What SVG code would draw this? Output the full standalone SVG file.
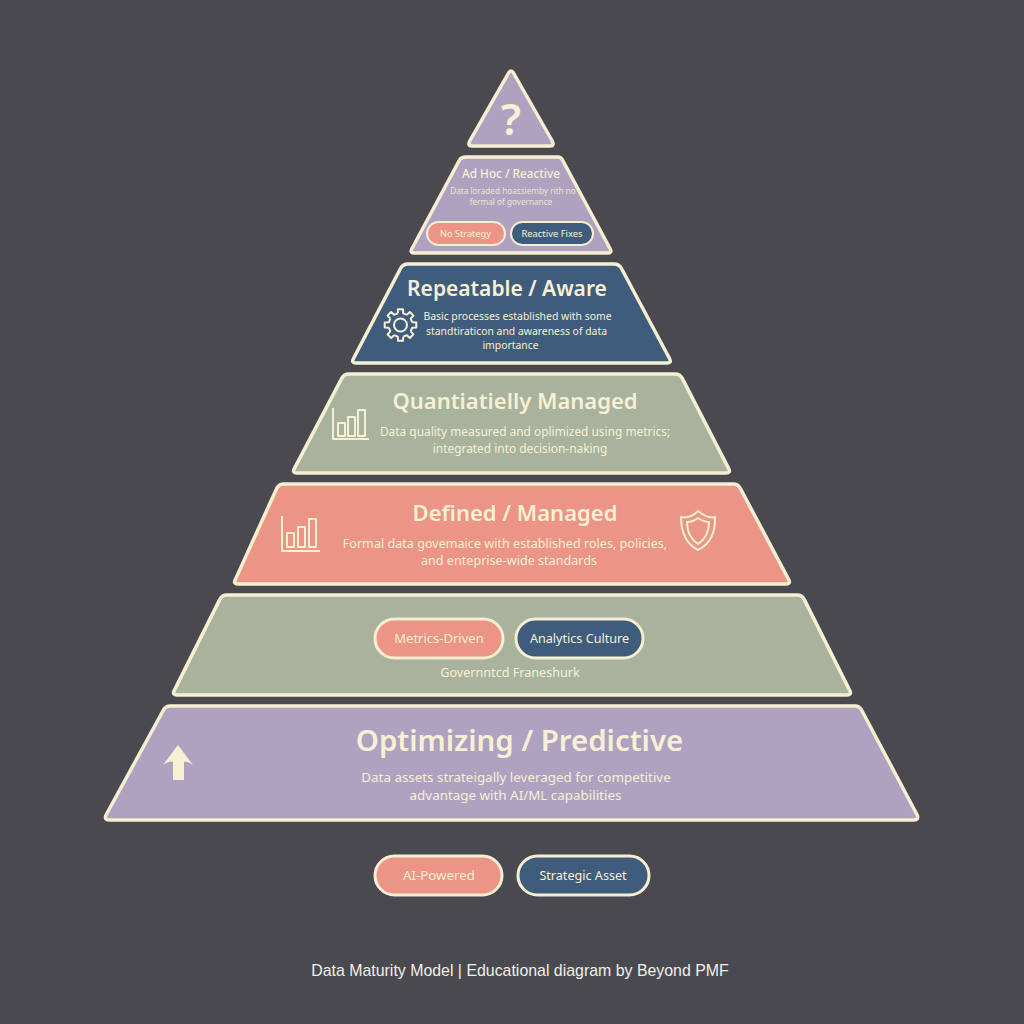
<svg xmlns="http://www.w3.org/2000/svg" width="1024" height="1024" viewBox="0 0 1024 1024">
<style>
.t{stroke:#f6eed2;stroke-width:3.5;stroke-linejoin:round}
.pu{fill:#aea2c0}.na{fill:#3f5c7c}.sa{fill:#a8b29c}.co{fill:#ec9485}
.p2{stroke:#f6eed2;stroke-width:2}.p3{stroke:#f6eed2;stroke-width:3}
text{font-family:"Noto Sans","Open Sans","Liberation Sans",sans-serif;fill:#f8f0d4;text-anchor:middle}
.h{font-weight:600}
.i{fill:none;stroke:#f8f0d4;stroke-width:2;stroke-linejoin:round}
</style>
<defs><path id="tooth" d="M-2.7 -11.7 L-2.5 -15.8 L2.5 -15.8 L2.7 -11.7 L6.36 -10.18"/></defs>
<rect width="1024" height="1024" fill="#49494f"/>
<g id="tier-top"><path class="t pu" d="M508.5 73 Q511 69 513.5 73 L552 140.5 Q555 146 550 146 H472 Q467 146 470 140.5 Z"/><text x="511" y="135" font-size="44" class="h" fill-opacity="1">?</text></g>
<g id="tier-adhoc"><path class="t pu" d="M466 157 H558 Q561 157 562.5 160 L610 248.5 Q612.5 253 608 253 H414 Q409.5 253 412 248.5 L459.5 160 Q461 157 466 157 Z"/>
<text x="511" y="178" font-size="11.8" font-weight="500">Ad Hoc / Reactive</text>
<text x="513" y="194" font-size="8.2" opacity=".85">Data loraded hoassiemby rith no</text>
<text x="511" y="205" font-size="8.2" opacity=".85">fermal of governance</text>
<rect class="co p2" x="427" y="222" width="78" height="23" rx="11.5"/><text x="465.500" y="237" font-size="9.2">No Strategy</text>
<rect class="na p2" x="511" y="222" width="82" height="23" rx="11.5"/><text x="552" y="237" font-size="9.400">Reactive Fixes</text></g>
<g id="tier-repeatable"><path class="t na" d="M408 264 H614 Q619 264 621.5 268.500 L669.500 358.500 Q672 363 667 363 H356 Q351 363 353.500 358.500 L400.500 268.500 Q403 264 408 264 Z"/>
<text x="507" y="296" font-size="21" class="h">Repeatable / Aware</text>
<text x="517.500" y="320" font-size="10.4">Basic processes established with some</text>
<text x="516.500" y="335" font-size="10.4">standtiraticon and awareness of data</text>
<text x="510.500" y="349" font-size="10.4">importance</text>
<g class="i" stroke-width="1.8"><circle cx="400.500" cy="325" r="6.500"/>
<use href="#tooth" transform="translate(400.500,325)"/><use href="#tooth" transform="translate(400.500,325) rotate(45)"/><use href="#tooth" transform="translate(400.500,325) rotate(90)"/><use href="#tooth" transform="translate(400.500,325) rotate(135)"/><use href="#tooth" transform="translate(400.500,325) rotate(180)"/><use href="#tooth" transform="translate(400.500,325) rotate(225)"/><use href="#tooth" transform="translate(400.500,325) rotate(270)"/><use href="#tooth" transform="translate(400.500,325) rotate(315)"/></g></g>
<g id="tier-quant"><path class="t sa" d="M349 374 H675 Q680 374 682.300 378.400 L728.700 468.600 Q731 473 726 473 H297 Q292 473 294.300 468.600 L341.700 378.400 Q344 374 349 374 Z"/>
<text x="515" y="409" font-size="22" class="h">Quantiatielly Managed</text>
<text x="525" y="436" font-size="11.900">Data quality measured and oplimized using metrics;</text>
<text x="520" y="453" font-size="11.900">integrated into decision-naking</text>
<path class="i" d="M333 408 V439 H369 M338 423 h7 v13 h-7 z M348 417 h7 v19 h-7 z M358 410 h7 v26 h-7 z"/></g>
<g id="tier-defined"><path class="t co" d="M284 484 H733 Q738 484 740.300 488.400 L788.700 579.600 Q791 584 786 584 H238 Q233 584 235.300 579.600 L276.700 488.400 Q279 484 284 484 Z"/>
<text x="515" y="521" font-size="22" class="h">Defined / Managed</text>
<text x="505" y="548" font-size="12.600">Formal data govemaice with established roles, policies,</text>
<text x="509" y="565" font-size="12.600">and enteprise-wide standards</text>
<path class="i" d="M282 516 V551 H320 M287 533 h7 v14 h-7 z M298 527 h7 v20 h-7 z M309 519 h7 v28 h-7 z"/>
<path class="i" d="M698 511 Q708 519 715 517 Q716 541 698 550 Q681 541 681 517 Q690 519 698 511 Z M698 518 Q704 522 709 522 Q709 537 698 544 Q687 537 687 522 Q693 522 698 518 Z"/></g>
<g id="tier-governed"><path class="t sa" d="M227 595 H797 Q802 595 804.200 599.400 L849.800 690.600 Q852 695 847 695 H177 Q172 695 174.200 690.600 L219.800 599.400 Q222 595 227 595 Z"/>
<rect class="co p3" x="375" y="619" width="128" height="39" rx="19.500"/><text x="439" y="643" font-size="13">Metrics-Driven</text>
<rect class="na p3" x="516" y="619" width="127" height="39" rx="19.500"/><text x="579.500" y="643" font-size="12.600">Analytics Culture</text>
<text x="510" y="677" font-size="12.600">Governntcd Franeshurk</text></g>
<g id="tier-optimizing"><path class="t pu" d="M170 706 H855 Q860 706 861.800 710.500 L917.200 815 Q919 820 914 820 H109 Q104 820 106 815 L163.200 710.500 Q165 706 170 706 Z"/>
<text x="519.500" y="751" font-size="29.400" class="h">Optimizing / Predictive</text>
<text x="516" y="782" font-size="13.400">Data assets strateigally leveraged for competitive</text>
<text x="515.500" y="800" font-size="13.400">advantage with AI/ML capabilities</text>
<path d="M178 745 L193 765 Q186 760 184 762 V780 H173 V762 Q170 760 163 765 Z" fill="#f8f0d4"/></g>
<g id="badge-ai"><rect class="co p3" x="375" y="856" width="127" height="39" rx="19.500"/><text x="439" y="880" font-size="13.300">AI-Powered</text></g>
<g id="badge-strategic"><rect class="na p3" x="518" y="856" width="131" height="39" rx="19.500"/><text x="583" y="880" font-size="12.600">Strategic Asset</text></g>
<text id="footer" x="520" y="976" font-size="15.900" style="font-family:'Liberation Sans',sans-serif;fill:#f0f0ea">Data Maturity Model | Educational diagram by Beyond PMF</text>
<g id="connectors"/>
</svg>
